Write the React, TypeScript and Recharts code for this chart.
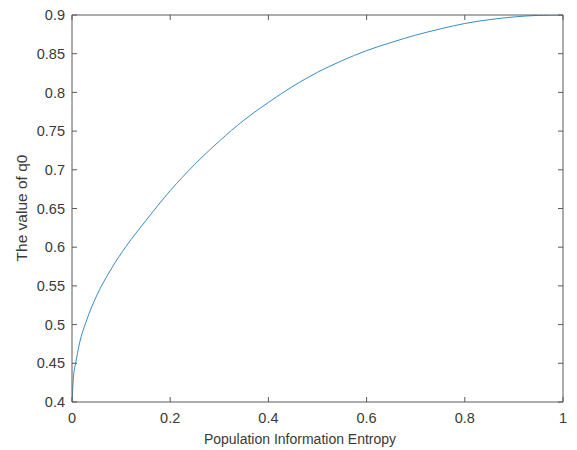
import React from "react";
import { LineChart, Line, XAxis, YAxis, Label } from "recharts";

const entropy = [0, 0.003, 0.008, 0.015, 0.03, 0.05, 0.08, 0.11, 0.15, 0.2, 0.25, 0.3, 0.35, 0.4, 0.45, 0.5, 0.55, 0.6, 0.65, 0.7, 0.75, 0.8, 0.85, 0.9, 0.95, 1];
const q0 = [0.4, 0.432, 0.452, 0.475, 0.506, 0.537, 0.572, 0.601, 0.634, 0.673, 0.707, 0.737, 0.764, 0.787, 0.808, 0.826, 0.841, 0.854, 0.8645, 0.874, 0.882, 0.889, 0.894, 0.8975, 0.8995, 0.9];
const xTicks = [0, 0.2, 0.4, 0.6, 0.8, 1];
const yTicks = [0.4, 0.45, 0.5, 0.55, 0.6, 0.65, 0.7, 0.75, 0.8, 0.85, 0.9];
const xLabel = "Population Information Entropy";
const yLabel = "The value of q0";

const data = entropy.map((e, i) => ({ e, q: q0[i] }));

const AXIS = "#5a5a5a";
const TEXT = "#3a3a3a";
const FONT = "'Liberation Sans', Arial, Helvetica, sans-serif";
const tickStyle = { fill: TEXT, fontSize: 14.5, fontFamily: FONT };
const blank = () => "";

export default function App() {
  return (
    <div style={{ position: "absolute", left: 0, top: 0, width: 577, height: 450, background: "#fff" }}>
      <LineChart width={577} height={450} data={data} margin={{ top: 14, right: 13, bottom: 0, left: 0 }}>
        <XAxis
          dataKey="e"
          type="number"
          domain={[0, 1]}
          ticks={xTicks}
          allowDataOverflow
          height={48}
          tickSize={-5}
          tickMargin={16}
          tickLine={{ stroke: AXIS }}
          axisLine={{ stroke: AXIS }}
          tick={tickStyle}
          interval={0}
        >
          <Label
            content={() => (
              <text x={300} y={444} textAnchor="middle" fill={TEXT} fontSize={14} fontFamily={FONT}>
                {xLabel}
              </text>
            )}
          />
        </XAxis>
        <XAxis
          xAxisId="top"
          dataKey="e"
          type="number"
          orientation="top"
          domain={[0, 1]}
          ticks={xTicks}
          allowDataOverflow
          height={1}
          tickSize={-5}
          tickMargin={0}
          tickLine={{ stroke: AXIS }}
          axisLine={{ stroke: AXIS }}
          tickFormatter={blank}
          tick={{ fill: "none" }}
          interval={0}
        />
        <YAxis
          type="number"
          domain={[0.4, 0.9]}
          ticks={yTicks}
          allowDataOverflow
          width={72}
          tickSize={-5}
          tickMargin={12}
          tickLine={{ stroke: AXIS }}
          axisLine={{ stroke: AXIS }}
          tick={tickStyle}
          interval={0}
        >
          <Label
            content={() => (
              <text x={27} y={208} transform="rotate(-90, 27, 208)" textAnchor="middle" fill={TEXT} fontSize={15.5} fontFamily={FONT}>
                {yLabel}
              </text>
            )}
          />
        </YAxis>
        <YAxis
          yAxisId="right"
          type="number"
          orientation="right"
          domain={[0.4, 0.9]}
          ticks={yTicks}
          allowDataOverflow
          width={1}
          tickSize={-5}
          tickMargin={0}
          tickLine={{ stroke: AXIS }}
          axisLine={{ stroke: AXIS }}
          tickFormatter={blank}
          tick={{ fill: "none" }}
          interval={0}
        />
        <Line
          dataKey="q"
          type="monotone"
          stroke="#3a8cc4"
          strokeWidth={1}
          dot={false}
          activeDot={false}
          isAnimationActive={false}
        />
      </LineChart>
    </div>
  );
}
